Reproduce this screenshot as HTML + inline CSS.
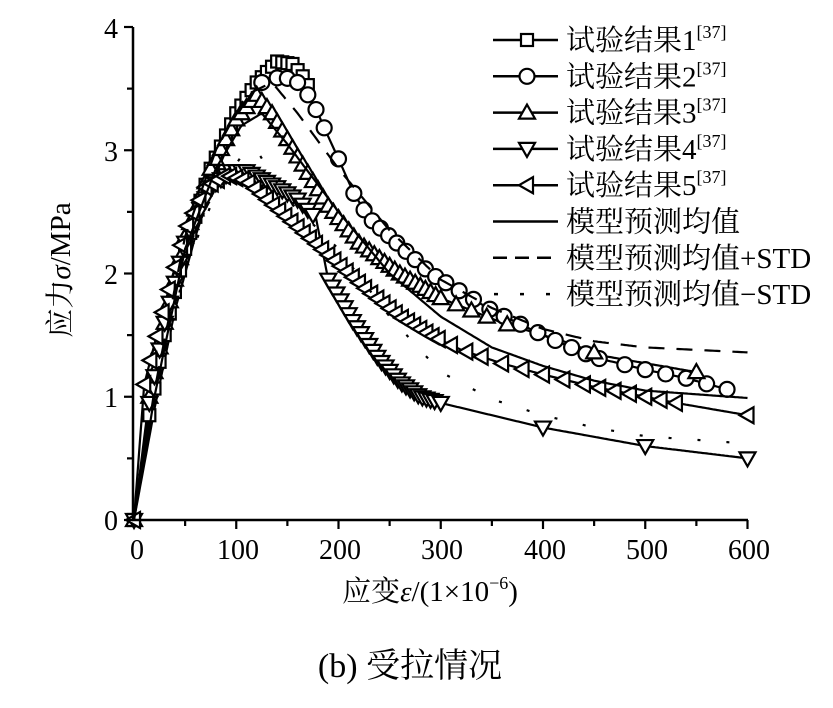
<!DOCTYPE html>
<html><head><meta charset="utf-8"><style>
html,body{margin:0;padding:0;background:#fff;width:833px;height:708px;overflow:hidden}
text{font-family:"Liberation Serif","Noto Serif CJK SC","Noto Sans CJK SC",serif;fill:#000}
</style></head><body>
<svg id="s" width="833" height="708" viewBox="0 0 833 708" xmlns="http://www.w3.org/2000/svg">
<g id="plot"></g>
<g stroke="#000" stroke-width="2.5" fill="none">
<line x1="133" y1="27" x2="133" y2="521"/>
<line x1="132" y1="520" x2="748" y2="520"/>
</g>
<g id="ticks" stroke="#000" stroke-width="2.2"></g>
<g font-size="28" text-anchor="end">
<text x="118" y="530">0</text><text x="118" y="407">1</text><text x="118" y="284">2</text><text x="118" y="161">3</text><text x="118" y="38">4</text>
</g>
<g font-size="28" text-anchor="middle">
<text x="137" y="559">0</text><text x="238" y="559">100</text><text x="340" y="559">200</text><text x="442" y="559">300</text><text x="545" y="559">400</text><text x="647" y="559">500</text><text x="749" y="559">600</text>
</g>
<text x="430" y="601" font-size="29" text-anchor="middle">应变<tspan font-style="italic">ε</tspan>/(1×10<tspan font-size="18" dy="-12">−6</tspan><tspan dy="12">)</tspan></text>
<text transform="translate(70,270) rotate(-90)" font-size="29" text-anchor="middle">应力<tspan font-style="italic">σ</tspan>/MPa</text>
<text x="410" y="677" font-size="34" text-anchor="middle">(b) 受拉情况</text>
<g id="legend"></g>
</svg>
<script>
var NS="http://www.w3.org/2000/svg";
function X(v){return 134+v*1.0225}
function Y(v){return 520-v*123.25}
function el(n,a,p){var e=document.createElementNS(NS,n);for(var k in a)e.setAttribute(k,a[k]);(p||document.getElementById('plot')).appendChild(e);return e}
function interp(p,x){for(var i=0;i<p.length-1;i++){if(x<=p[i+1][0]){var t=(x-p[i][0])/(p[i+1][0]-p[i][0]);return p[i][1]+t*(p[i+1][1]-p[i][1])}}return p[p.length-1][1]}
function line(p,attrs,g){var d="";var x0=p[0][0],x1=p[p.length-1][0];for(var x=x0;x<=x1+0.01;x+=2){d+=(d?"L":"M")+X(x).toFixed(1)+" "+Y(interp(p,x)).toFixed(1)}
 var a={d:d,fill:"none",stroke:"#000","stroke-width":2.2};for(var k in attrs)a[k]=attrs[k];el("path",a,g)}
function marker(type,cx,cy,g){var a={fill:"#fff",stroke:"#000","stroke-width":2.2};
 if(type=="sq"){a.x=cx-6;a.y=cy-6;a.width=12;a.height=12;el("rect",a,g)}
 else if(type=="ci"){a.cx=cx;a.cy=cy;a.r=7.5;el("circle",a,g)}
 else{var pts;if(type=="up")pts=[[cx,cy-8],[cx-8,cy+6],[cx+8,cy+6]];
  else if(type=="dn")pts=[[cx,cy+8],[cx-8,cy-6],[cx+8,cy-6]];
  else pts=[[cx-8,cy],[cx+6,cy-8],[cx+6,cy+8]];
  a.points=pts.map(function(q){return q.join(",")}).join(" ");el("polygon",a,g)}}
function range(a,b,s){var r=[];for(var x=a;x<=b+0.01;x+=s)r.push(x);return r}
var S=[
 {t:"sq",p:[[0,0],[15,0.85],[30,1.5],[50,2.2],[75,2.85],[100,3.3],[120,3.55],[140,3.72],[155,3.7],[165,3.6],[172,3.5]],m:[0].concat(range(15,170,5))},
 {t:"ci",p:[[0,0],[20,0.9],[40,1.7],[60,2.3],[80,2.8],[105,3.3],[125,3.55],[145,3.6],[160,3.55],[170,3.45],[180,3.3],[185,3.2],[200,2.93],[215,2.65],[230,2.45],[250,2.3],[270,2.15],[290,2.0],[310,1.9],[350,1.7],[400,1.5],[450,1.32],[500,1.22],[540,1.15],[580,1.06]],m:[125,140,150,160,170,178,186,200,215,225,233,241,249,257,266,275,285,295,305,318,332,348,362,378,395,412,428,442,455,480,500,520,540,560,580]},
 {t:"up",p:[[0,0],[15,1.0],[30,1.6],[50,2.3],[75,2.85],[100,3.25],[120,3.45],[135,3.3],[160,2.95],[190,2.55],[220,2.25],[260,2.0],[300,1.8],[360,1.6],[420,1.45],[460,1.33],[550,1.2]],m:[0].concat(range(15,300,5),[315,330,345,365,450,550])},
 {t:"dn",p:[[0,0],[15,0.95],[30,1.6],[50,2.25],[75,2.7],[95,2.83],[110,2.83],[140,2.7],[160,2.6],[178,2.45],[190,1.95],[215,1.6],[240,1.3],[260,1.12],[280,1.0],[300,0.95],[400,0.75],[500,0.6],[600,0.5]],m:[0].concat(range(15,178,5),range(190,295,4),[300,400,500,600])},
 {t:"lt",p:[[0,0],[10,1.1],[30,1.75],[50,2.35],[70,2.7],[90,2.8],[110,2.75],[130,2.6],[150,2.45],[170,2.3],[190,2.15],[210,2.0],[230,1.85],[260,1.65],[290,1.5],[320,1.38],[360,1.27],[400,1.18],[450,1.08],[500,1.0],[530,0.95],[600,0.85]],m:[0].concat(range(10,300,6),[310,325,340,360,380,400,420,440,455,470,485,500,515,530,600])}
];
var mean=[[0,0],[20,1.0],[50,2.2],[80,2.85],[105,3.2],[125,3.3],[150,3.05],[200,2.5],[250,2.0],[300,1.65],[350,1.4],[400,1.25],[450,1.13],[500,1.05],[600,0.99]];
var plus=[[0,0],[20,1.05],[50,2.3],[80,3.0],[110,3.45],[135,3.55],[160,3.3],[200,2.85],[250,2.35],[300,1.95],[350,1.72],[400,1.55],[450,1.45],[500,1.4],[600,1.36]];
var minus=[[0,0],[20,0.95],[50,2.05],[80,2.65],[105,2.95],[120,3.0],[150,2.6],[200,2.2],[250,1.65],[300,1.2],[350,0.98],[400,0.85],[450,0.75],[500,0.68],[600,0.62]];
var P=document.getElementById('plot');
S.forEach(function(s){line(s.p,{},P)});
S.forEach(function(s){s.m.forEach(function(x){marker(s.t,X(x),Y(interp(s.p,x)),P)})});
line(mean,{},P);
line(plus,{"stroke-dasharray":"16 12"},P);
line(minus,{"stroke-dasharray":"3 26"},P);
var T=document.getElementById('ticks');
for(var i=0;i<=8;i++){var y=Y(i*0.5);el("line",{x1:133,x2:i%2?127:124,y1:y,y2:y},T)}
for(var i=1;i<=12;i++){var x=X(i*50);el("line",{x1:x,x2:x,y1:520,y2:i%2?526:529},T)}
var L=document.getElementById('legend');
var names=["试验结果1","试验结果2","试验结果3","试验结果4","试验结果5","模型预测均值","模型预测均值+STD","模型预测均值−STD"];
var types=["sq","ci","up","dn","lt"];
for(var i=0;i<8;i++){var y=40+i*36.3;
 var a={x1:493,x2:558,y1:y,y2:y,stroke:"#000","stroke-width":2.5};
 if(i==6)a["stroke-dasharray"]="14 8";
 if(i==7){a["stroke-dasharray"]="4 22";a.x1=494}
 el("line",a,L);
 if(i<5)marker(types[i],527,y,L);
 var t=el("text",{x:566,y:y+10,"font-size":"29"},L);
 t.textContent=names[i];
 if(i<5){var ts=el("tspan",{"font-size":"18",dy:"-12"},t);ts.textContent="[37]"}
}
</script>
</body></html>
